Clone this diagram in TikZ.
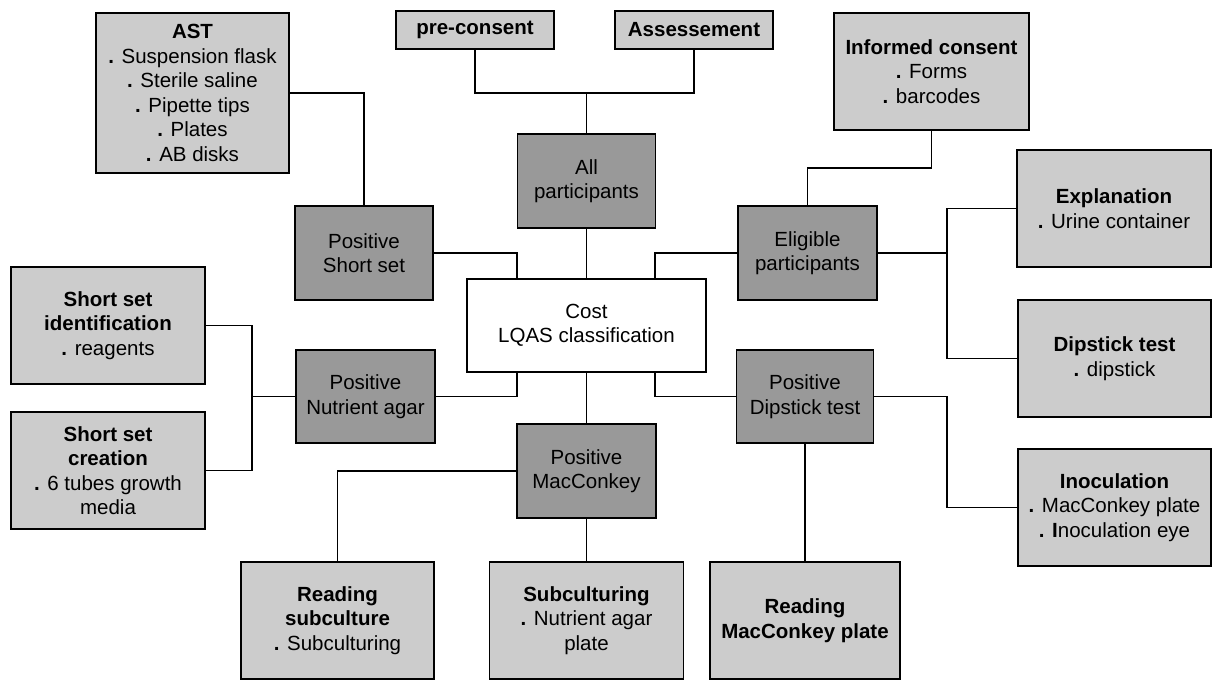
\documentclass[tikz,border=0pt]{standalone}
\usepackage{fontspec}
\setmainfont{Liberation Sans}
\definecolor{lightbox}{RGB}{204,204,204}
\definecolor{darkbox}{RGB}{153,153,153}
\begin{document}
\begin{tikzpicture}[x=1pt,y=-1pt,
  base/.style={draw=black, line width=1.6pt, inner sep=0pt, align=center,
    font=\fontsize{20.5}{24.5}\selectfont},
  lbox/.style={base, fill=lightbox},
  dbox/.style={base, fill=darkbox},
  wbox/.style={base, fill=white},
  conn/.style={draw=black, line width=1.3pt},
  sz/.style 2 args={minimum width=#1pt, minimum height=#2pt}]
\useasboundingbox (0,0) rectangle (1212,680);
% light boxes
\node[lbox, sz={193}{160}] (ast) at (192.5,93) {\textbf{AST}\\\textbf{.} Suspension flask\\\textbf{.} Sterile saline\\\textbf{.} Pipette tips\\\textbf{.} Plates\\\textbf{.} AB disks};
\node[lbox, sz={158}{38}] (pre) at (475,30) {\textbf{pre-consent}};
\node[lbox, sz={158}{38}] (ass) at (694,30) {\textbf{Assessement}};
\node[lbox, sz={195}{117}] (ic) at (931.5,71.5) {\textbf{Informed consent}\\\textbf{.} Forms\\\textbf{.} barcodes};
\node[lbox, sz={194}{117}] (expl) at (1114,208.5) {\textbf{Explanation}\\\textbf{.} Urine container};
\node[lbox, sz={193}{117}] (dip) at (1114.5,358.5) {\textbf{Dipstick test}\\\textbf{.} dipstick};
\node[lbox, sz={193}{117}] (ino) at (1114.5,507.5) {\textbf{Inoculation}\\\textbf{.} MacConkey plate\\\textbf{. I}noculation eye};
\node[lbox, sz={194}{117}] (ssi) at (108,325.5) {\textbf{Short set}\\\textbf{identification}\\\textbf{.} reagents};
\node[lbox, sz={194}{117}] (ssc) at (108,470.5) {\textbf{Short set}\\\textbf{creation}\\\textbf{.} 6 tubes growth\\media};
\node[lbox, sz={193}{117}] (rsub) at (337.5,620.5) {\textbf{Reading}\\\textbf{subculture}\\\textbf{.} Subculturing};
\node[lbox, sz={194}{117}] (sub) at (586.5,620.5) {\textbf{Subculturing}\\\textbf{.} Nutrient agar\\plate};
\node[lbox, sz={190}{117}] (rmc) at (805,620.5) {\textbf{Reading}\\\textbf{MacConkey plate}};
% dark boxes
\node[dbox, sz={138}{94}] (allp) at (586.5,181) {All\\participants};
\node[dbox, sz={138}{94}] (pss) at (364,253) {Positive\\Short set};
\node[dbox, sz={139}{94}] (elig) at (807.5,253) {Eligible\\participants};
\node[dbox, sz={139}{93}] (pna) at (365.5,396.5) {Positive\\Nutrient agar};
\node[dbox, sz={137}{93}] (pdt) at (805,396.5) {Positive\\Dipstick test};
\node[dbox, sz={139}{94}] (pmc) at (586.5,471) {Positive\\MacConkey};
% centre
\node[wbox, sz={239}{93}] (cost) at (586.5,325.5) {Cost\\LQAS classification};
% junctions
\coordinate (jtop) at (586.5,93);
\coordinate (jic) at (870,168);
\coordinate (ev) at (947,253);
\coordinate (rv) at (947,396.5);
\coordinate (lv) at (252,396.5);
% connectors
\draw[conn] (pre.south) |- (jtop) -| (ass.south);
\draw[conn] (jtop) -- (allp.north);
\draw[conn] (ast.east) -| (pss.north);
\draw[conn] (ic.south) |- (jic) -| (elig.north);
\draw[conn] (elig.east) -- (ev);
\draw[conn] (expl.west) -| (ev);
\draw[conn] (dip.west) -| (ev);
\draw[conn] (allp.south) -- (cost.north);
\draw[conn] (pss.east) -| ([xshift=-69.5pt]cost.north);
\draw[conn] (elig.west) -| ([xshift=68.5pt]cost.north);
\draw[conn] (pna.east) -| ([xshift=-69.5pt]cost.south);
\draw[conn] (pdt.west) -| ([xshift=68.5pt]cost.south);
\draw[conn] (cost.south) -- (pmc.north);
\draw[conn] (pna.west) -- (lv);
\draw[conn] (ssi.east) -| (lv);
\draw[conn] (ssc.east) -| (lv);
\draw[conn] (pmc.west) -| (rsub.north);
\draw[conn] (pmc.south) -- (sub.north);
\draw[conn] (pdt.east) -- (rv) |- (ino.west);
\draw[conn] (pdt.south) -- (rmc.north);
\end{tikzpicture}
\end{document}
